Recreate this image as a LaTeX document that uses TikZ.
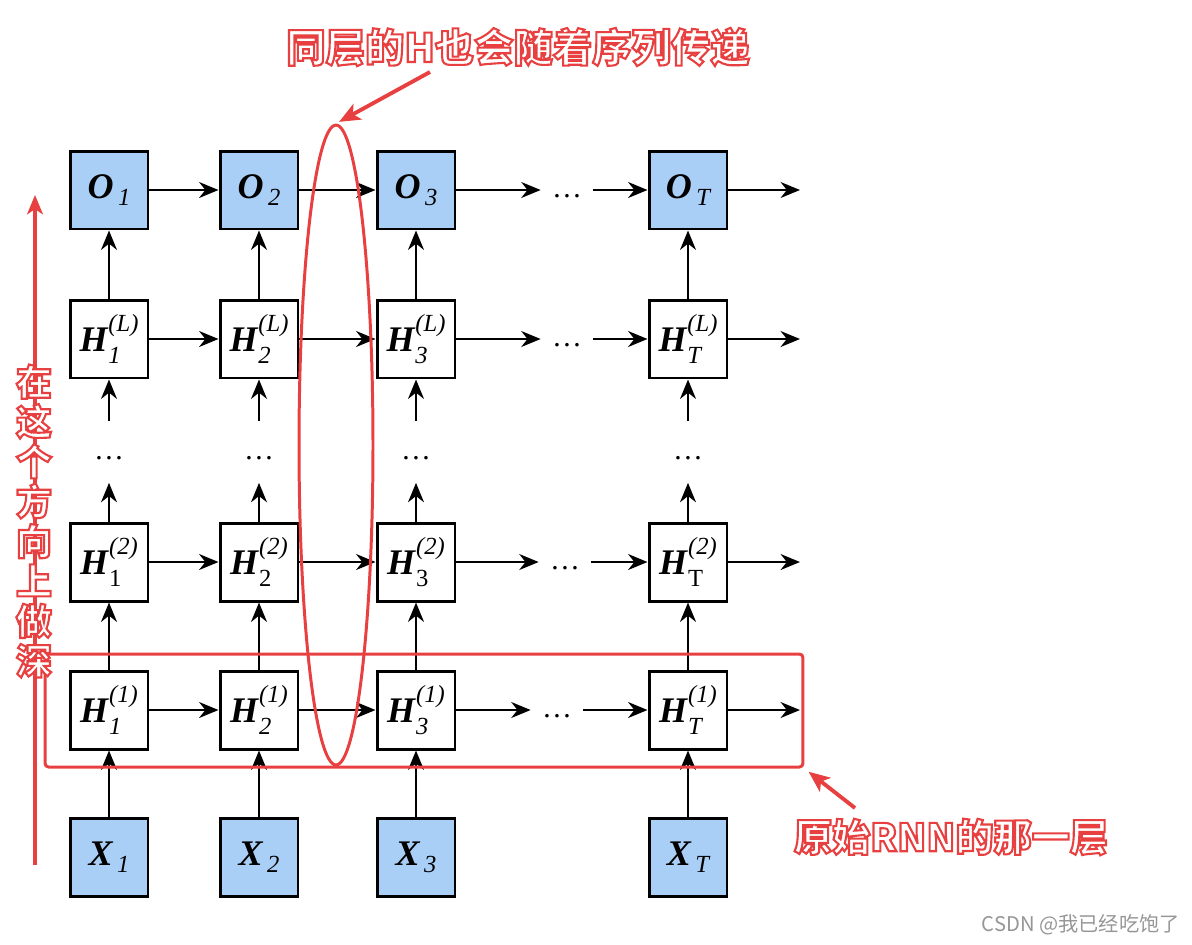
\documentclass[tikz,border=0pt]{standalone}
\usepackage{fontspec}
\setmainfont{Liberation Serif}
\newfontfamily\cjk{Noto Sans CJK SC}
\usetikzlibrary{arrows.meta,positioning,shapes.geometric}
\definecolor{cellblue}{RGB}{170,207,247}
\definecolor{markred}{RGB}{232,64,64}
\definecolor{wmgray}{RGB}{150,150,150}
% label of a hidden cell: letter, superscript, subscript
\newcommand{\hlab}[3]{{\bfseries\itshape #1}\kern0.5pt\rlap{\raisebox{-6.5pt}{\fontsize{14}{15}\selectfont #3}}\raisebox{11.5pt}{\fontsize{14}{15}\selectfont\itshape #2}}
% label of an input or output cell
\newcommand{\iolab}[2]{{\bfseries\itshape #1}\kern2.5pt\raisebox{-4pt}{\fontsize{14}{15}\selectfont\itshape #2}}
% white letters with a red outline
\newcommand{\outl}[1]{\textcolor{white}{\special{pdf:literal direct 0.91 0.25 0.25 RG 1.2 w 2 Tr}#1\special{pdf:literal direct 0 Tr}}}
\newcommand{\gapdots}{\smash{\raisebox{-4pt}{\dots}}}

\begin{document}
\begin{tikzpicture}
  [x=0.02cm,y=-0.02cm,
   cellbox/.style={draw,line width=1.7pt,minimum size=1.56cm,inner sep=0pt,
     font=\fontsize{20.5}{22}\selectfont},
   iobox/.style={cellbox,fill=cellblue},
   flow/.style={-{Stealth[length=11pt,width=9pt,inset=3.5pt]},line width=1.5pt},
   hgap/.style={minimum width=1.04cm,inner sep=0pt,font=\fontsize{17}{20}\selectfont},
   vgap/.style={minimum height=1.22cm,minimum width=0.6cm,inner sep=0pt,
     font=\fontsize{17}{20}\selectfont},
   redline/.style={draw=markred,line width=1.7pt},
   redarrow/.style={markred,line width=2.2pt,-{Stealth[length=12pt,width=10pt,inset=3pt]}},
   note/.style={font=\cjk\bfseries\fontsize{22.4}{26}\selectfont,inner sep=0pt}]
  \useasboundingbox (0,0) rectangle (1192,944);

  % columns of the unrolled network
  \foreach \c/\x in {1/109,2/259,3/416,T/688} {
    \node[iobox] (o-\c) at (\x,190) {\iolab{O}{\c}};
    \node[cellbox] (hl-\c) at (\x,339) {\hlab{H}{(L)}{\textit{\c}}};
    \node[vgap] (v-\c) at (\x,452) {\gapdots};
    \node[cellbox] (hb-\c) at (\x,562) {\hlab{H}{(2)}{\textrm{\c}}};
    \node[cellbox] (ha-\c) at (\x,710) {\hlab{H}{(1)}{\textit{\c}}};
    \node[iobox] (x-\c) at (\x,857) {\iolab{X}{\c}};
    \draw[flow] (x-\c) -- (ha-\c);
    \draw[flow] (ha-\c) -- (hb-\c);
    \draw[flow] (hb-\c) -- (v-\c);
    \draw[flow] (v-\c) -- (hl-\c);
    \draw[flow] (hl-\c) -- (o-\c);
  }

  % rows along the sequence
  \foreach \r/\y/\m in {o/190/567,hl/339/567,hb/562/565,ha/710/557} {
    \node[hgap] (\r-m) at (\m,\y) {\gapdots};
    \coordinate (\r-out) at (800,\y);
    \draw[flow] (\r-1) -- (\r-2);
    \draw[flow] (\r-2) -- (\r-3);
    \draw[flow] (\r-3) -- (\r-m);
    \draw[flow] (\r-m) -- (\r-T);
    \draw[flow] (\r-T) -- (\r-out);
  }

  % red marks
  \node[redline,ellipse,minimum width=1.48cm,minimum height=12.8cm,inner sep=0pt]
    (samelayer) at (336,445) {};
  \node[redline,rounded corners=2pt,minimum width=15.16cm,minimum height=2.26cm,inner sep=0pt]
    (rnnlayer) at (424,710.5) {};

  \coordinate (up-tail) at (35,865);
  \coordinate (up-head) at (35,195);
  \draw[markred,line width=2pt,-{Stealth[length=11pt,width=9pt,inset=3pt]}] (up-tail) -- (up-head);
  \node[font=\cjk\bfseries\fontsize{20.5}{22.7}\selectfont,align=center,inner sep=0pt]
    (deep) at (34,521) {\outl{在}\\\outl{这}\\\outl{个}\\\outl{方}\\\outl{向}\\\outl{上}\\\outl{做}\\\outl{深}};

  \node[note] (toptxt) at (518,47) {\outl{同层的H也会随着序列传递}};
  \coordinate (top-tail) at (430,72);
  \draw[redarrow,shorten >=2pt] (top-tail) -- (samelayer.north);

  \node[note,font=\cjk\bfseries\fontsize{21.7}{26}\selectfont] (bottxt) at (951,837) {\outl{原始RNN的那一层}};
  \coordinate (bot-tail) at (855,808);
  \draw[redarrow,shorten >=3pt] (bot-tail) -- (rnnlayer.south east);

  \node[font=\cjk\fontsize{11.5}{13}\selectfont,text=wmgray,anchor=east,inner sep=0pt]
    (mark) at (1180,925) {CSDN @我已经吃饱了};
\end{tikzpicture}
\end{document}
